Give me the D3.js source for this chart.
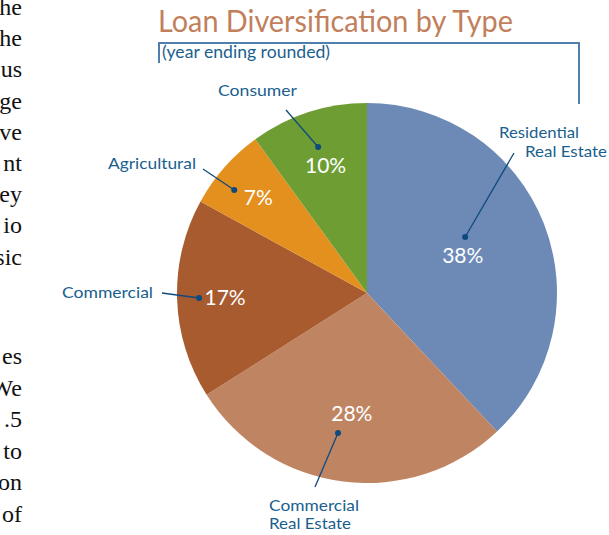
<!DOCTYPE html>
<html>
<head>
<meta charset="utf-8">
<script src="https://cdn.jsdelivr.net/npm/d3@7/dist/d3.min.js"></script>
<style>
  html, body { margin: 0; padding: 0; background: #fff; }
  svg { display: block; }
</style>
</head>
<body>
<svg id="chart" width="609" height="535"></svg>
<script>
// Loan mix by type, share of portfolio (%)
const categories = ["Residential Real Estate", "Commercial Real Estate", "Commercial", "Agricultural", "Consumer"];
const shares = [38, 28, 17, 7, 10];
const sliceColors = ["#6d8ab6", "#bf8563", "#a75b2f", "#e4901f", "#6e9e33"];
const titleText = "Loan Diversification by Type";
const subtitleText = "(year ending rounded)";

// Tail ends of the neighbouring article column, clipped at the page edge
const columnTailsTop = ["he", "he", "us", "ge", "ve", "nt", "ey", "io", "sic"];
const columnTailsBottom = ["es", "We", ".5", "to", "on", "of"];

// Callout layout: label lines (anchor, baseline, width), leader start, and the dot in polar terms
const callouts = [
  { lines: ["Residential", "Real Estate"], x: [499, 525], y: [138, 157], w: [80, 82], from: [514, 153], dotAngle: 60.3, dotR: 113, pctR: 103 },
  { lines: ["Commercial", "Real Estate"], x: [269, 269], y: [511, 529], w: [90, 82], from: [315, 487], dotAngle: 191.7, dotR: 143, pctR: 121 },
  { lines: ["Commercial"], x: [62], y: [298], w: [91], from: [162, 293], dotAngle: 268.3, dotR: 168, pctR: 142 },
  { lines: ["Agricultural"], x: [108], y: [169], w: [88], from: [203, 169], dotAngle: 307.8, dotR: 168, pctR: 145 },
  { lines: ["Consumer"], x: [218], y: [96], w: [79], from: [286, 110], dotAngle: 341.5, dotR: 154, pctR: 134 }
];

const svg = d3.select("#chart");
const sans = "Lato, 'Open Sans', sans-serif";
const labelBlue = "#1a5f8e";
const leaderBlue = "#0f4a7e";

// Article column fragments
const serif = "'Liberation Serif', 'DejaVu Serif', serif";
svg.append("g").selectAll("text").data(columnTailsTop).join("text")
  .attr("x", 22).attr("y", (d, i) => 15 + i * 31.2)
  .attr("text-anchor", "end")
  .style("font-family", serif).style("font-size", "24px").style("fill", "#111")
  .text(d => d);
svg.append("g").selectAll("text").data(columnTailsBottom).join("text")
  .attr("x", 22).attr("y", (d, i) => 364 + i * 31.6)
  .attr("text-anchor", "end")
  .style("font-family", serif).style("font-size", "24px").style("fill", "#111")
  .text(d => d);

// Title
const title = svg.append("text")
  .attr("x", 158).attr("y", 32)
  .style("font-family", sans).style("font-size", "31px").style("fill", "#c27f5c")
  .text(titleText);
fitWidth(title, 355);

// Bracket frame under the title
svg.append("path")
  .attr("d", "M159,63 V43 H579 V104")
  .attr("fill", "none").attr("stroke", "#4f7fac").attr("stroke-width", 2);

const subtitle = svg.append("text")
  .attr("x", 162).attr("y", 58)
  .style("font-family", sans).style("font-size", "17px").style("fill", labelBlue)
  .text(subtitleText);
fitWidth(subtitle, 168);

// Pie
const cx = 367, cy = 293, R = 190;
const data = categories.map((c, i) => ({ name: c, value: shares[i], color: sliceColors[i], co: callouts[i] }));
const pie = d3.pie().value(d => d.value).sort(null);
const arcs = pie(data);
const arc = d3.arc().innerRadius(0).outerRadius(R);
const g = svg.append("g").attr("transform", `translate(${cx},${cy})`);

g.selectAll("path.slice").data(arcs).join("path")
  .attr("class", "slice")
  .attr("d", arc)
  .attr("fill", d => d.data.color);

// Percentage labels on the slices
g.selectAll("text.pct").data(arcs).join("text")
  .attr("class", "pct")
  .attr("transform", d => {
    const c = d3.arc().innerRadius(d.data.co.pctR).outerRadius(d.data.co.pctR).centroid(d);
    return `translate(${c[0]},${c[1]})`;
  })
  .attr("text-anchor", "middle").attr("dy", "0.36em")
  .style("font-family", sans).style("font-size", "21px").style("fill", "#fff")
  .text(d => d.data.value + "%");

// Callout leaders and dots
const polar = (deg, r) => {
  const a = deg * Math.PI / 180;
  return [cx + r * Math.sin(a), cy - r * Math.cos(a)];
};
const co = svg.append("g");
data.forEach(d => {
  const p = polar(d.co.dotAngle, d.co.dotR);
  co.append("line")
    .attr("x1", d.co.from[0]).attr("y1", d.co.from[1])
    .attr("x2", p[0]).attr("y2", p[1])
    .attr("stroke", leaderBlue).attr("stroke-width", 1.3);
  co.append("circle").attr("cx", p[0]).attr("cy", p[1]).attr("r", 3).attr("fill", leaderBlue);
  d.co.lines.forEach((ln, j) => {
    const t = co.append("text")
      .attr("x", d.co.x[j]).attr("y", d.co.y[j])
      .style("font-family", sans).style("font-size", "16px").style("fill", labelBlue)
      .text(ln);
    fitWidth(t, d.co.w[j]);
  });
});

function fitWidth(sel, w) {
  const node = sel.node();
  const len = node.getComputedTextLength();
  if (len > 0 && Math.abs(len - w) / w > 0.03) {
    sel.attr("textLength", w).attr("lengthAdjust", "spacingAndGlyphs");
  }
}
</script>
</body>
</html>
